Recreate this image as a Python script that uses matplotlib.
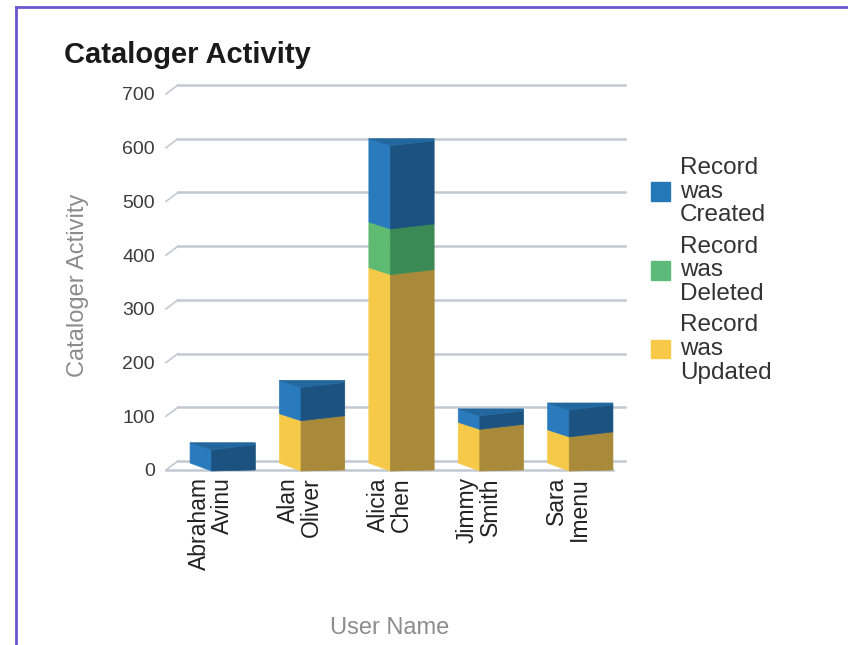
import matplotlib
matplotlib.use('Agg')
import matplotlib.pyplot as plt
from matplotlib.patches import Polygon, Patch
from matplotlib.lines import Line2D

plt.rcParams['font.family'] = ['Liberation Sans', 'DejaVu Sans']

# ---- data ----
users = ['Abraham\nAvinu', 'Alan\nOliver', 'Alicia\nChen', 'Jimmy\nSmith', 'Sara\nImenu']
updated = [0, 88, 360, 72, 58]
deleted = [0, 0, 85, 0, 0]
created = [34, 62, 155, 25, 50]
series_labels = ['Record\nwas\nCreated', 'Record\nwas\nDeleted', 'Record\nwas\nUpdated']
yticks = [0, 100, 200, 300, 400, 500, 600, 700]

# face colours (light side, dark side, top)
col_updated = ('#f6ca48', '#a88a3a', '#c9a640')
col_deleted = ('#5fba72', '#3b8a55', '#4a9e62')
col_created = ('#2a7bbd', '#1b5280', '#22679e')
legend_cols = ['#2478b8', '#5dbb7a', '#f7c948']

W, H = 848, 645
fig = plt.figure(figsize=(W / 100, H / 100), dpi=100)
ax = fig.add_axes([178 / W, 184 / H, 447 / W, 376 / H])
ax.set_xlim(-0.5, 4.5)
ax.set_ylim(0, 700)
ax.axis('off')

# pixel -> data conversions
px_x = 5.0 / 447
px_y = 700.0 / 376

grid_c = '#c3c9d2'
off_x, off_y = -12 * px_x, -9 * px_y

# gridlines with perspective
for v in yticks:
    ax.plot([-0.5, 4.5], [v, v], color=grid_c, lw=1.8, clip_on=False, zorder=1)
    ax.plot([-0.5 + off_x, -0.5], [v + off_y, v], color=grid_c, lw=1.2, clip_on=False, zorder=1)
    ax.text(-0.5 - 23 * px_x, v - 11 * px_y, str(v), ha='right', va='center',
            fontsize=14, color='#3c3c3c')
# front floor line
ax.plot([-0.5 + off_x, 4.5 + off_x], [off_y, off_y], color=grid_c, lw=1.8, clip_on=False, zorder=1)

hw = 0.365
def level_pts(v, i):
    xL, xR = i - hw, i + hw
    xF = xL + 0.33 * 2 * hw
    if v == 0:
        return [(xL, -2 * px_y), (xF, -10 * px_y), (xR, -9 * px_y)]
    return [(xL, v), (xF, v - 7 * px_y), (xR, v - 2 * px_y)]

for i in range(len(users)):
    base = 0
    segs = [(updated[i], col_updated), (deleted[i], col_deleted), (created[i], col_created)]
    top_col = None
    for val, cols in segs:
        if val <= 0:
            continue
        lo = level_pts(base, i)
        hi = level_pts(base + val, i)
        left = [lo[0], lo[1], hi[1], hi[0]]
        right = [lo[1], lo[2], hi[2], hi[1]]
        ax.add_patch(Polygon(left, closed=True, facecolor=cols[0], edgecolor=cols[0], lw=0.5,
                             clip_on=False, zorder=3))
        ax.add_patch(Polygon(right, closed=True, facecolor=cols[1], edgecolor=cols[1], lw=0.5,
                             clip_on=False, zorder=3))
        base += val
        top_col = cols
    hi = level_pts(base, i)
    top = [hi[0], (i + hw, base), hi[2], hi[1]]
    ax.add_patch(Polygon(top, closed=True, facecolor=top_col[2], edgecolor=top_col[2], lw=0.5,
                         clip_on=False, zorder=4))
    # category label on the front plane
    ax.text(i + off_x, -16 * px_y, users[i], rotation=90, ha='center', va='top',
            multialignment='right', linespacing=1.0, fontsize=16.5, color='#222222')

# titles
fig.text(64 / W, 1 - 55 / H, 'Cataloger Activity', fontsize=21, fontweight='bold',
         ha='left', va='center', color='#1a1a1a')
fig.text(78 / W, 1 - 285 / H, 'Cataloger Activity', rotation=90, fontsize=17,
         ha='center', va='center', color='#8c8c8c')
fig.text(390 / W, 1 - 628 / H, 'User Name', fontsize=17, ha='center', va='center',
         color='#8c8c8c')

# legend
handles = [Patch(facecolor=c, edgecolor=c) for c in legend_cols]
leg = fig.legend(handles, series_labels, loc='upper left',
                 bbox_to_anchor=(651 / W, 1 - 157 / H), frameon=False, fontsize=17.5,
                 handlelength=0.8, handleheight=0.8, handletextpad=0.4,
                 labelspacing=0.38, borderpad=0, borderaxespad=0)
for t in leg.get_texts():
    t.set_linespacing(1.1)
    t.set_color('#333333')

# border
fig.add_artist(Line2D([16 / W, 16 / W], [0, 1 - 7 / H], transform=fig.transFigure,
                      color='#6e55d0', lw=2))
fig.add_artist(Line2D([16 / W, 1], [1 - 7 / H, 1 - 7 / H], transform=fig.transFigure,
                      color='#6e55d0', lw=2))

fig.savefig('out.png', dpi=100)
